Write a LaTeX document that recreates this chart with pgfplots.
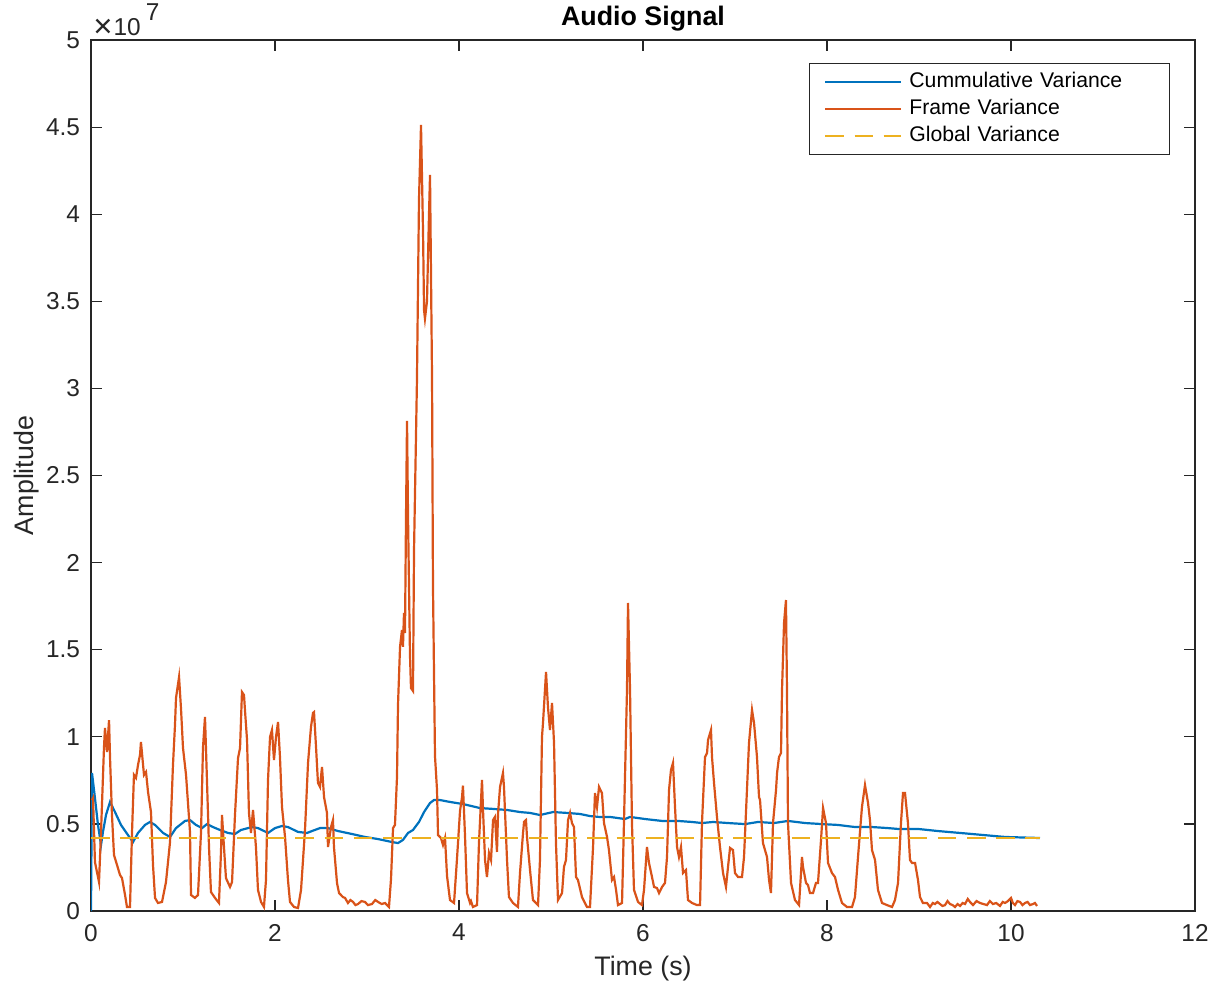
\documentclass[border=0pt]{standalone}
\usepackage{pgfplots}
\pgfplotsset{compat=1.18}
\usepackage{graphicx}
\usepackage{fontspec}
\setmainfont{Liberation Sans}

\definecolor{mblue}{rgb}{0,0.447,0.741}
\definecolor{morange}{rgb}{0.85,0.325,0.098}
\definecolor{myellow}{rgb}{0.929,0.694,0.125}
\definecolor{axgray}{rgb}{0.15,0.15,0.15}

\begin{document}
\begin{tikzpicture}
\begin{axis}[
  name=main,
  scale only axis, width=552pt, height=435.5pt,
  xmin=0, xmax=12, ymin=0, ymax=5,
  xtick={0,2,...,12}, ytick={0,0.5,...,5},
  yticklabels={0,0.5,1,1.5,2,2.5,3,3.5,4,4.5,5},
  tick align=inside, major tick length=5.5pt,
  axis line style={draw=axgray, line width=0.6pt},
  every tick/.style={draw=axgray, line width=0.6pt},
  ticklabel style={font=\fontsize{12.2}{14}\selectfont, text=axgray},
  /pgf/number format/assume math mode=true,
  yticklabel style={xshift=-2pt},
  xticklabel style={yshift=-3pt},
  title={Audio Signal},
  title style={font=\bfseries\fontsize{13.4}{16}\selectfont, yshift=-5pt},
  xlabel={Time (s)},
  xlabel style={font=\fontsize{13.4}{16}\selectfont, text=axgray, at={(0.5,-0.0735)}, anchor=base},
  ylabel={Amplitude},
  ylabel style={font=\fontsize{13.4}{16}\selectfont, text=axgray, at={(-0.0525,0.5)}, anchor=base},
  legend style={at={(1,1)}, anchor=north east, xshift=-12.5pt, yshift=-11.5pt,
    draw=axgray, line width=0.6pt, fill=white,
    font=\fontsize{10.6}{13}\selectfont,
    inner xsep=7.5pt, inner ysep=4pt, row sep=3pt, column sep=3.5pt,
    nodes={inner xsep=0pt, inner ysep=0pt, text height=8pt, text depth=2.5pt},
    /tikz/every even column/.append style={text width=122.5pt, align=left}},
  legend cell align=left,
  legend image code/.code={\draw[#1] (0pt,0pt) -- (38pt,0pt);},
]
% cumulative variance
\addplot[mblue, line width=1.1pt] coordinates {
(0,0) (0.011,0.792) (0.043,0.649) (0.076,0.494) (0.109,0.379) (0.130,0.454)
(0.163,0.551) (0.207,0.626) (0.261,0.568) (0.326,0.494) (0.402,0.436) (0.457,0.396)
(0.511,0.448) (0.587,0.494) (0.641,0.511) (0.696,0.494) (0.783,0.448) (0.859,0.425)
(0.924,0.476) (1.022,0.517) (1.076,0.522) (1.141,0.494) (1.207,0.476) (1.261,0.499)
(1.326,0.482) (1.402,0.465) (1.489,0.448) (1.565,0.442) (1.630,0.465) (1.707,0.476)
(1.750,0.482) (1.815,0.476) (1.924,0.448) (2.000,0.476) (2.076,0.488) (2.141,0.482)
(2.250,0.454) (2.348,0.448) (2.402,0.459) (2.489,0.476) (2.576,0.476) (2.685,0.459)
(2.837,0.442) (2.978,0.425) (3.120,0.413) (3.272,0.396) (3.337,0.390) (3.391,0.408)
(3.446,0.448) (3.500,0.465) (3.565,0.511) (3.620,0.568) (3.685,0.620) (3.728,0.637)
(3.793,0.637) (3.902,0.626) (4.043,0.614) (4.228,0.591) (4.370,0.586) (4.522,0.580)
(4.663,0.568) (4.772,0.563) (4.880,0.551) (5.022,0.568) (5.174,0.563) (5.315,0.557)
(5.424,0.545) (5.522,0.540) (5.641,0.540) (5.804,0.528) (5.859,0.540) (6.022,0.528)
(6.207,0.517) (6.380,0.517) (6.533,0.511) (6.641,0.505) (6.761,0.511) (6.924,0.505)
(7.109,0.499) (7.250,0.511) (7.424,0.505) (7.576,0.517) (7.761,0.505) (7.946,0.499)
(8.120,0.494) (8.304,0.482) (8.489,0.482) (8.663,0.476) (8.772,0.471) (8.989,0.471)
(9.207,0.459) (9.576,0.442) (9.935,0.425) (10.315,0.419)
};
\addlegendentry{Cummulative Variance}
% frame variance
\addplot[morange, line width=1.1pt] coordinates {
(0.011,0.637) (0.022,0.649) (0.043,0.281) (0.087,0.166) (0.109,0.454) (0.141,0.936)
(0.152,1.051) (0.174,0.913) (0.196,1.096) (0.207,0.878) (0.228,0.551) (0.250,0.321)
(0.283,0.264) (0.315,0.207) (0.337,0.189) (0.370,0.092) (0.391,0.023) (0.424,0.023)
(0.446,0.454) (0.467,0.781) (0.489,0.764) (0.511,0.838) (0.533,0.896) (0.543,0.970)
(0.576,0.781) (0.598,0.798) (0.620,0.683) (0.652,0.568) (0.674,0.264) (0.696,0.075)
(0.728,0.046) (0.772,0.052) (0.815,0.166) (0.859,0.396) (0.891,0.838) (0.913,1.068)
(0.924,1.223) (0.957,1.343) (0.978,1.165) (1.000,0.936) (1.033,0.781) (1.076,0.454)
(1.087,0.092) (1.130,0.075) (1.163,0.092) (1.196,0.454) (1.217,0.936) (1.239,1.114)
(1.261,0.741) (1.283,0.362) (1.304,0.109) (1.348,0.075) (1.391,0.046) (1.413,0.339)
(1.424,0.551) (1.446,0.362) (1.467,0.189) (1.511,0.138) (1.533,0.166) (1.565,0.551)
(1.598,0.878) (1.620,0.936) (1.641,1.257) (1.663,1.240) (1.674,1.150) (1.696,0.982)
(1.717,0.563) (1.739,0.448) (1.761,0.580) (1.793,0.367) (1.815,0.121) (1.848,0.052)
(1.880,0.023) (1.902,0.178) (1.924,0.752) (1.946,0.999) (1.967,1.039) (1.989,0.867)
(2.011,0.999) (2.033,1.085) (2.054,0.884) (2.076,0.597) (2.109,0.425) (2.141,0.178)
(2.163,0.052) (2.207,0.023) (2.250,0.017) (2.283,0.121) (2.326,0.465) (2.359,0.850)
(2.391,1.056) (2.413,1.137) (2.424,1.142) (2.446,0.941) (2.467,0.735) (2.489,0.712)
(2.511,0.827) (2.533,0.654) (2.565,0.563) (2.576,0.367) (2.609,0.482) (2.630,0.522)
(2.641,0.367) (2.674,0.161) (2.696,0.103) (2.739,0.080) (2.761,0.075) (2.793,0.046)
(2.820,0.063) (2.848,0.052) (2.875,0.034) (2.902,0.040) (2.940,0.057) (2.978,0.052)
(3.010,0.034) (3.054,0.040) (3.090,0.063) (3.120,0.052) (3.160,0.040) (3.196,0.046)
(3.239,0.023) (3.261,0.184) (3.283,0.476) (3.304,0.494) (3.326,0.769) (3.337,1.183)
(3.359,1.516) (3.380,1.613) (3.391,1.516) (3.402,1.711) (3.413,1.596) (3.424,2.262)
(3.435,2.813) (3.446,2.262) (3.467,1.475) (3.478,1.280) (3.500,1.263) (3.511,2.067)
(3.543,3.048) (3.565,4.082) (3.587,4.512) (3.609,3.900) (3.620,3.450) (3.630,3.400)
(3.652,3.500) (3.674,4.000) (3.685,4.225) (3.707,3.048) (3.717,1.871) (3.739,0.890)
(3.761,0.695) (3.772,0.436) (3.804,0.419) (3.826,0.379) (3.848,0.419) (3.870,0.201)
(3.902,0.063) (3.946,0.046) (3.978,0.298) (4.011,0.574) (4.033,0.654) (4.043,0.720)
(4.065,0.436) (4.087,0.103) (4.120,0.046) (4.130,0.057) (4.152,0.023) (4.196,0.034)
(4.217,0.390) (4.250,0.752) (4.261,0.580) (4.283,0.293) (4.304,0.195) (4.326,0.333)
(4.348,0.293) (4.370,0.522) (4.391,0.540) (4.413,0.339) (4.424,0.557) (4.446,0.712)
(4.478,0.792) (4.489,0.712) (4.522,0.293) (4.543,0.080) (4.587,0.046) (4.641,0.023)
(4.663,0.218) (4.696,0.448) (4.707,0.511) (4.728,0.522) (4.739,0.425) (4.772,0.235)
(4.804,0.063) (4.859,0.034) (4.880,0.293) (4.902,0.999) (4.913,1.079) (4.946,1.372)
(4.967,1.171) (4.989,1.039) (5.011,1.194) (5.033,0.964) (5.054,0.390) (5.076,0.063)
(5.120,0.103) (5.141,0.253) (5.163,0.293) (5.185,0.522) (5.207,0.563) (5.228,0.505)
(5.250,0.482) (5.272,0.195) (5.293,0.178) (5.337,0.080) (5.391,0.023) (5.424,0.023)
(5.457,0.367) (5.478,0.677) (5.500,0.597) (5.522,0.712) (5.554,0.677) (5.576,0.505)
(5.609,0.425) (5.630,0.350) (5.663,0.178) (5.685,0.195) (5.707,0.121) (5.728,0.034)
(5.772,0.046) (5.793,0.505) (5.826,1.269) (5.837,1.768) (5.859,1.269) (5.880,0.505)
(5.902,0.121) (5.946,0.052) (5.989,0.034) (6.011,0.121) (6.043,0.367) (6.065,0.276)
(6.098,0.195) (6.120,0.138) (6.152,0.132) (6.174,0.103) (6.207,0.138) (6.239,0.161)
(6.261,0.310) (6.283,0.695) (6.304,0.809) (6.326,0.850) (6.348,0.597) (6.370,0.367)
(6.391,0.310) (6.413,0.367) (6.435,0.218) (6.467,0.235) (6.489,0.063) (6.533,0.046)
(6.587,0.034) (6.620,0.034) (6.641,0.505) (6.674,0.884) (6.696,0.907) (6.707,0.982)
(6.739,1.039) (6.750,0.884) (6.772,0.735) (6.804,0.540) (6.837,0.367) (6.870,0.218)
(6.902,0.138) (6.924,0.253) (6.946,0.362) (6.978,0.350) (7.000,0.218) (7.033,0.195)
(7.076,0.195) (7.098,0.310) (7.130,0.695) (7.152,0.964) (7.185,1.154) (7.207,1.079)
(7.239,0.884) (7.261,0.654) (7.272,0.637) (7.304,0.390) (7.348,0.310) (7.370,0.178)
(7.391,0.103) (7.413,0.505) (7.446,0.695) (7.457,0.792) (7.478,0.884) (7.500,0.907)
(7.511,1.269) (7.533,1.653) (7.554,1.785) (7.565,1.269) (7.576,0.505) (7.609,0.161)
(7.652,0.063) (7.696,0.034) (7.728,0.310) (7.739,0.253) (7.772,0.161) (7.793,0.149)
(7.815,0.103) (7.848,0.103) (7.880,0.161) (7.902,0.161) (7.935,0.408) (7.957,0.591)
(7.989,0.505) (8.011,0.276) (8.054,0.218) (8.087,0.195) (8.120,0.121) (8.163,0.046)
(8.217,0.023) (8.272,0.023) (8.304,0.080) (8.337,0.310) (8.380,0.597) (8.413,0.723)
(8.446,0.620) (8.467,0.522) (8.489,0.350) (8.522,0.293) (8.554,0.121) (8.598,0.046)
(8.652,0.034) (8.707,0.023) (8.739,0.063) (8.772,0.161) (8.804,0.505) (8.826,0.677)
(8.848,0.677) (8.880,0.505) (8.902,0.293) (8.924,0.276) (8.957,0.276) (8.989,0.178)
(9.011,0.080) (9.043,0.046) (9.087,0.046) (9.120,0.023) (9.150,0.046) (9.174,0.040)
(9.200,0.052) (9.228,0.040) (9.255,0.029) (9.283,0.034) (9.310,0.057) (9.337,0.040)
(9.365,0.034) (9.391,0.023) (9.420,0.040) (9.446,0.029) (9.475,0.046) (9.500,0.040)
(9.530,0.069) (9.554,0.052) (9.587,0.034) (9.625,0.057) (9.663,0.046) (9.700,0.040)
(9.739,0.034) (9.770,0.057) (9.804,0.040) (9.840,0.046) (9.880,0.029) (9.910,0.052)
(9.935,0.046) (9.967,0.057) (10.000,0.075) (10.020,0.046) (10.043,0.034) (10.070,0.057)
(10.098,0.052) (10.125,0.034) (10.152,0.046) (10.180,0.052) (10.207,0.034)
(10.239,0.040) (10.260,0.046) (10.283,0.029)
};
\addlegendentry{Frame Variance}
% global variance
\addplot[myellow, line width=1.1pt, dash pattern=on 9.3pt off 5.3pt] coordinates {
(0,0.419) (10.315,0.419)
};
\addlegendentry{Global Variance}
\end{axis}
% scale factor label above the y axis
\node[anchor=base west, inner sep=0pt, text=axgray, font=\fontsize{12.2}{14}\selectfont]
  at ([xshift=1pt, yshift=2.5pt]main.north west)
  {\raisebox{-1.3pt}{\scalebox{1.35}{×}}\hspace{0.5pt}10\hspace{2.5pt}\raisebox{7.5pt}{7}};
\pgfresetboundingbox
\path[use as bounding box] (-45.5pt,-37pt) rectangle (562pt,455.5pt);
\end{tikzpicture}
\end{document}
